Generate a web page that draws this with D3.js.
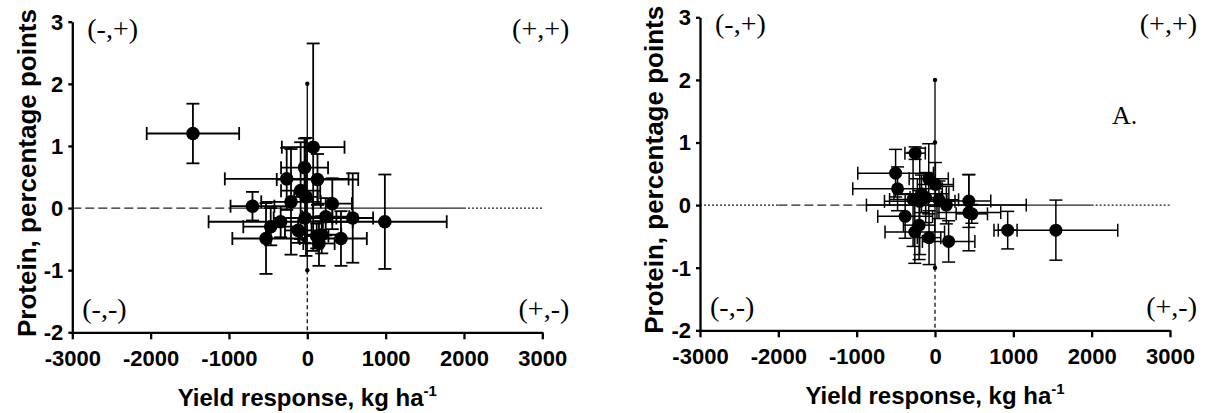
<!DOCTYPE html>
<html><head><meta charset="utf-8">
<script src="https://cdn.jsdelivr.net/npm/d3@7"></script>
<style>
html,body{margin:0;padding:0;background:#fff;}
svg{display:block;}
</style></head>
<body>
<svg id="chart" width="1205" height="413"></svg>
<script>
// ---------- data ----------
const xTicks = [-3000, -2000, -1000, 0, 1000, 2000, 3000];
const yTicks = [-2, -1, 0, 1, 2, 3];
const xTitle = "Yield response, kg ha";
const xTitleSup = "-1";
const yTitle = "Protein, percentage points";
const quadrantLabels = ["(-,+)", "(+,+)", "(-,-)", "(+,-)"];
const panelLabel = "A.";

// left panel
const leftX    = [-1460, 75, -35, -263, 130, -85, -17, -208, 319, -700, -29, 235, 580, 990, -340, -467, -115, -527, 184, 149, 430, 120];
const leftY    = [1.20, 0.98, 0.65, 0.47, 0.46, 0.28, 0.18, 0.10, 0.07, 0.03, -0.16, -0.14, -0.16, -0.22, -0.22, -0.30, -0.36, -0.49, -0.43, -0.57, -0.49, -0.45];
const leftXErr = [590, 400, 300, 790, 520, 250, 150, 380, 250, 280, 400, 300, 260, 790, 920, 350, 170, 430, 250, 200, 330, 150];
const leftYErr = [0.48, 1.67, 0.47, 0.50, 0.41, 0.78, 0.95, 0.85, 0.41, 0.23, 0.40, 0.30, 0.72, 0.76, 0.25, 0.30, 0.20, 0.57, 0.30, 0.36, 0.44, 0.20];

// right panel
const rightX    = [-254, -503, -478, -80, 5, -173, -280, -195, -119, 51, 145, 432, 432, 470, -381, -203, -258, -76, 174, 928, 1543];
const rightY    = [0.83, 0.51, 0.26, 0.42, 0.33, 0.18, 0.09, 0.06, 0.12, 0.085, 0.00, 0.064, -0.12, -0.14, -0.18, -0.32, -0.43, -0.52, -0.58, -0.40, -0.40];
const rightXErr = [130, 483, 572, 250, 230, 350, 300, 450, 200, 250, 1020, 280, 407, 200, 350, 200, 380, 150, 335, 120, 790];
const rightYErr = [0.10, 0.38, 0.35, 0.56, 0.35, 0.30, 0.75, 0.85, 0.40, 0.30, 0.30, 0.42, 0.61, 0.15, 0.35, 0.55, 0.50, 0.43, 0.33, 0.30, 0.48];

// reference lines: [x1, x2, style]
const leftHRef  = [[-3000, -1000, "dash"], [-1000, 2000, "solid"], [2000, 3000, "dot"]];
const rightHRef = [[-3000, -2000, "dot"], [-2000, -900, "dash"], [-900, 2000, "solid"], [2000, 3000, "dot"]];
const leftVDots  = [2, -1];
const rightVDots = [2, 1, -1];

// ---------- drawing ----------
const svg = d3.select("#chart");
const sans = "'Liberation Sans', Arial, sans-serif";
const serif = "'Liberation Serif', 'Times New Roman', serif";

function panel(cfg) {
  const x = d3.scaleLinear().domain([-3000, 3000]).range([cfg.l, cfg.r]);
  const y = d3.scaleLinear().domain([-2, 3]).range([cfg.b, cfg.t]);
  const g = svg.append("g");

  // reference lines
  const dashMap = {dash: "9,4", dot: "2,2", solid: null};
  cfg.href.forEach(s => {
    g.append("line").attr("x1", x(s[0])).attr("x2", x(s[1]))
      .attr("y1", y(0)).attr("y2", y(0))
      .attr("stroke", "#222").attr("stroke-width", 1.3)
      .attr("stroke-dasharray", dashMap[s[2]]);
  });
  g.append("line").attr("x1", x(0)).attr("x2", x(0)).attr("y1", y(2)).attr("y2", y(-1))
    .attr("stroke", "#111").attr("stroke-width", 1.4);
  g.append("line").attr("x1", x(0)).attr("x2", x(0)).attr("y1", y(-1)).attr("y2", y(-2))
    .attr("stroke", "#111").attr("stroke-width", 1.3).attr("stroke-dasharray", "4,3");
  cfg.vdots.forEach(v => {
    g.append("circle").attr("cx", x(0)).attr("cy", y(v)).attr("r", 2.2).attr("fill", "#000");
  });

  // error bars
  const cap = 6.5;
  const sw = cfg.sw;
  cfg.xs.forEach((xv, i) => {
    const yv = cfg.ys[i], ex = cfg.xe[i], ey = cfg.ye[i];
    const eg = g.append("g").attr("stroke", "#000").attr("stroke-width", sw).attr("fill", "none");
    eg.append("line").attr("x1", x(xv - ex)).attr("x2", x(xv + ex)).attr("y1", y(yv)).attr("y2", y(yv));
    eg.append("line").attr("x1", x(xv - ex)).attr("x2", x(xv - ex)).attr("y1", y(yv) - cap).attr("y2", y(yv) + cap);
    eg.append("line").attr("x1", x(xv + ex)).attr("x2", x(xv + ex)).attr("y1", y(yv) - cap).attr("y2", y(yv) + cap);
    eg.append("line").attr("x1", x(xv)).attr("x2", x(xv)).attr("y1", y(yv - ey)).attr("y2", y(yv + ey));
    eg.append("line").attr("x1", x(xv) - cap).attr("x2", x(xv) + cap).attr("y1", y(yv - ey)).attr("y2", y(yv - ey));
    eg.append("line").attr("x1", x(xv) - cap).attr("x2", x(xv) + cap).attr("y1", y(yv + ey)).attr("y2", y(yv + ey));
  });
  g.selectAll("circle.pt").data(cfg.xs).enter().append("circle").attr("class", "pt")
    .attr("cx", d => x(d)).attr("cy", (d, i) => y(cfg.ys[i])).attr("r", cfg.r0).attr("fill", "#000");

  // axes
  const fmt = d => String(d);
  const xa = g.append("g").attr("transform", `translate(0,${cfg.b})`)
    .call(d3.axisBottom(x).tickValues(xTicks).tickSize(7).tickSizeOuter(0).tickPadding(11).tickFormat(fmt));
  const ya = g.append("g").attr("transform", `translate(${cfg.l},0)`)
    .call(d3.axisLeft(y).tickValues(yTicks).tickSize(4).tickSizeOuter(0).tickPadding(5).tickFormat(fmt));
  [xa, ya].forEach(a => {
    a.select(".domain").attr("stroke", "#000").attr("stroke-width", 2.3);
    a.selectAll(".tick line").attr("stroke", "#000").attr("stroke-width", 2.3);
    a.selectAll("text").attr("fill", "#000").style("font-family", sans).style("font-weight", "bold").style("font-size", "22px");
  });
  ya.selectAll("text").attr("dy", "0.34em");

  // titles
  const xt = g.append("text").attr("x", x(0)).attr("y", cfg.b + 74)
    .attr("text-anchor", "middle").style("font-family", sans).style("font-weight", "bold").style("font-size", "24px");
  xt.append("tspan").text(xTitle);
  xt.append("tspan").text(xTitleSup).attr("dy", "-10").style("font-size", "15px");
  g.append("text").attr("transform", `translate(${cfg.l - 46},${(cfg.t + cfg.b) / 2 - 4}) rotate(-90)`)
    .attr("text-anchor", "middle").attr("dy", "0.36em")
    .style("font-family", sans).style("font-weight", "bold").style("font-size", "26px").text(yTitle);

  // quadrant labels
  const q = (txt, px, py, anchor) => g.append("text").attr("x", px).attr("y", py).attr("text-anchor", anchor)
    .style("font-family", serif).style("font-size", "28px").text(txt);
  q(quadrantLabels[0], cfg.l + 15, cfg.t + 16, "start");
  q(quadrantLabels[1], cfg.r + 27, cfg.t + 16, "end");
  q(quadrantLabels[2], cfg.l + 10, cfg.b - 14, "start");
  q(quadrantLabels[3], cfg.r + 27, cfg.b - 14, "end");
  if (cfg.tag) {
    g.append("text").attr("x", x(2260)).attr("y", y(1.3)).style("font-family", serif).style("font-size", "26px").text(cfg.tag);
  }
}

panel({l: 72.3, r: 542.3, t: 21.7, b: 332.3, xs: leftX, ys: leftY, xe: leftXErr, ye: leftYErr, href: leftHRef, vdots: leftVDots, sw: 1.8, r0: 6.8});
panel({l: 700, r: 1170, t: 17.3, b: 330.3, xs: rightX, ys: rightY, xe: rightXErr, ye: rightYErr, href: rightHRef, vdots: rightVDots, sw: 1.5, r0: 6.5, tag: panelLabel});
</script>
</body></html>
